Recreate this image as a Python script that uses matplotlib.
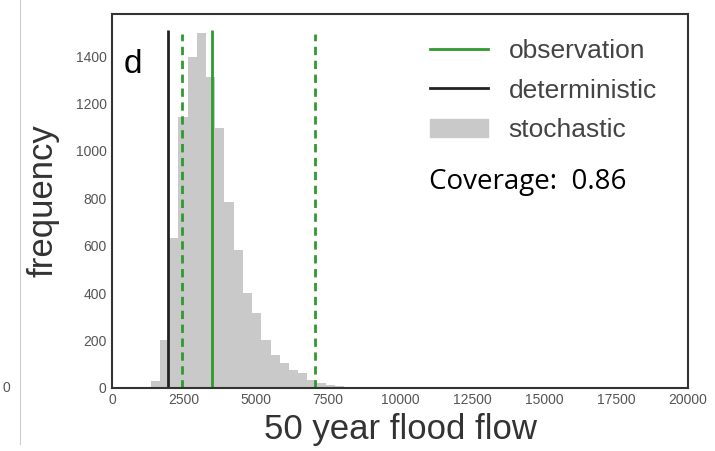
import numpy as np
import matplotlib.pyplot as plt
from matplotlib.patches import Patch
from matplotlib.lines import Line2D

# histogram of stochastic 50-year flood flows (bin left edges + counts)
bin_width = 320
bin_left = [1340 + i * bin_width for i in range(24)]
counts = [30, 202, 632, 1145, 1398, 1497, 1313, 1097, 786, 582, 400, 315,
          202, 139, 104, 76, 62, 34, 20, 12, 8, 5, 3, 2]

deterministic = 1930
observation = 3460
obs_bounds = [2440, 7030]
line_top = 1510
coverage = 0.86

xticks = [0, 2500, 5000, 7500, 10000, 12500, 15000, 17500, 20000]
yticks = [0, 200, 400, 600, 800, 1000, 1200, 1400]

green = '#2f9a2f'
grey = '#c9c9c9'
tickc = '#555555'

plt.rcParams['font.family'] = ['Liberation Sans', 'DejaVu Sans']

fig = plt.figure(figsize=(7.15, 4.51), dpi=100)
ax = fig.add_axes([0.157, 0.140, 0.805, 0.829])

ax.bar(bin_left, counts, width=bin_width, align='edge', color=grey, linewidth=0)
ax.vlines(deterministic, 0, line_top, color='#222222', lw=2)
ax.vlines(observation, 0, line_top, color=green, lw=2)
ax.vlines(obs_bounds, 0, line_top - 15, color=green, lw=2, linestyles=(0, (3, 2)))

ax.set_xlim(0, 20000)
ax.set_ylim(0, 1578)
ax.set_xticks(xticks)
ax.set_yticks(yticks)
ax.tick_params(length=0, labelsize=10, labelcolor=tickc, pad=4)
for s in ax.spines.values():
    s.set_color('#333333')
    s.set_linewidth(1.5)

ax.set_xlabel('50 year flood flow', fontsize=25, color='#333333', labelpad=4)
ax.set_ylabel('frequency', fontsize=25, color='#333333', labelpad=12)

ax.text(0.02, 0.905, 'd', transform=ax.transAxes, fontsize=24, va='top')

handles = [Line2D([], [], color=green, lw=2),
           Line2D([], [], color='#222222', lw=2),
           Patch(color=grey)]
leg = ax.legend(handles, ['observation', 'deterministic', 'stochastic'],
                loc='upper left', bbox_to_anchor=(0.534, 0.962), frameon=False,
                borderaxespad=0, fontsize=19, labelcolor='#444444',
                handlelength=2.2, handletextpad=0.77, labelspacing=0.6)

ax.text(0.551, 0.532, 'Coverage:  %.2f' % coverage, transform=ax.transAxes,
        fontsize=20, family=['Open Sans', 'DejaVu Sans'], va='baseline')

# stray bits of the neighbouring panel in the screenshot
fig.add_artist(Line2D([0.028, 0.028], [0.015, 1.0], color='#cccccc', lw=0.8))
fig.text(0.004, 0.140, '0', fontsize=10, color=tickc, va='center')

fig.savefig('out.png', dpi=100)
